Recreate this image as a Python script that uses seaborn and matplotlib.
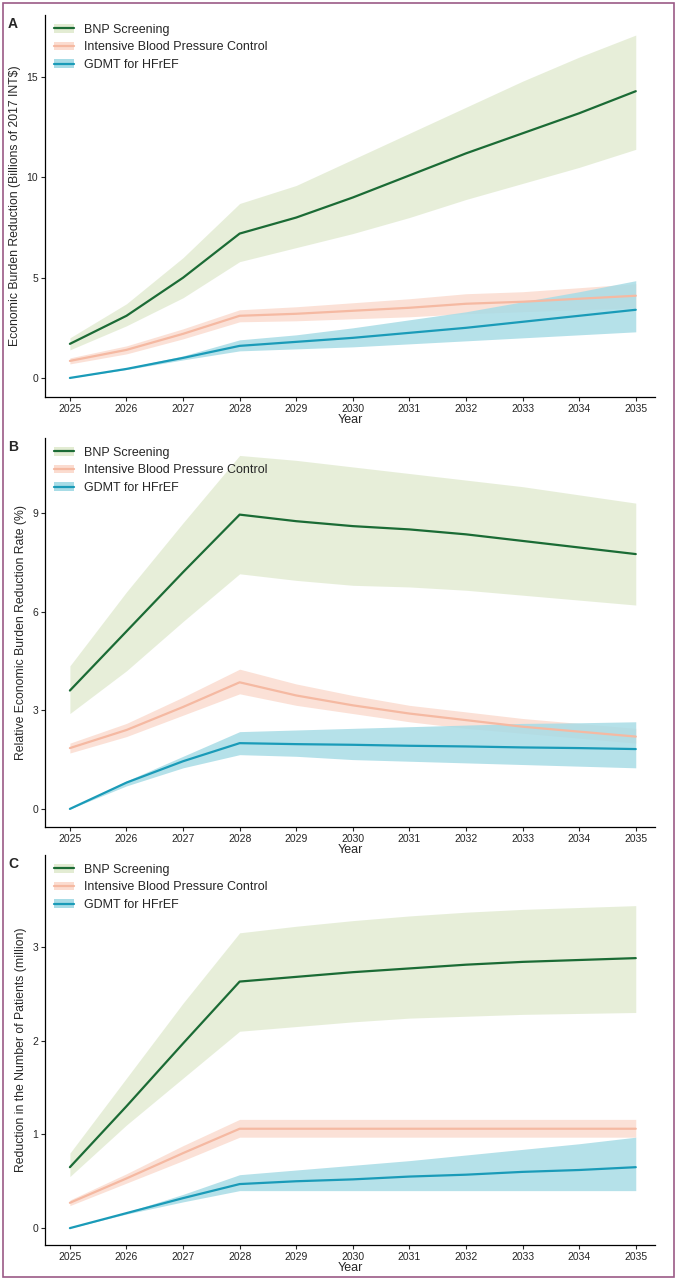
import matplotlib
matplotlib.use("Agg")
import matplotlib.pyplot as plt
import seaborn as sns
import pandas as pd
from matplotlib.patches import Rectangle, Patch
from matplotlib.lines import Line2D

years = list(range(2025, 2036))
series_names = ["BNP Screening", "Intensive Blood Pressure Control", "GDMT for HFrEF"]

# Panel A
a_bnp = [1.7, 3.1, 5.0, 7.2, 8.0, 9.0, 10.1, 11.2, 12.2, 13.2, 14.3]
a_bnp_lo = [1.4, 2.6, 4.0, 5.8, 6.5, 7.2, 8.0, 8.9, 9.7, 10.5, 11.4]
a_bnp_hi = [2.0, 3.7, 6.0, 8.7, 9.6, 10.9, 12.2, 13.5, 14.8, 16.0, 17.1]
a_ibp = [0.85, 1.4, 2.2, 3.1, 3.2, 3.35, 3.5, 3.7, 3.8, 3.95, 4.1]
a_ibp_lo = [0.7, 1.2, 1.95, 2.8, 2.85, 2.95, 3.05, 3.2, 3.3, 3.4, 3.5]
a_ibp_hi = [1.0, 1.6, 2.45, 3.4, 3.55, 3.75, 3.95, 4.2, 4.3, 4.5, 4.7]
a_gd = [0.0, 0.45, 1.0, 1.6, 1.8, 2.0, 2.25, 2.5, 2.8, 3.1, 3.4]
a_gd_lo = [0.0, 0.42, 0.9, 1.35, 1.45, 1.55, 1.7, 1.85, 2.0, 2.15, 2.3]
a_gd_hi = [0.0, 0.5, 1.1, 1.9, 2.15, 2.5, 2.9, 3.3, 3.8, 4.3, 4.85]

# Panel B
b_bnp = [3.6, 5.4, 7.2, 8.95, 8.75, 8.6, 8.5, 8.35, 8.15, 7.95, 7.75]
b_bnp_lo = [2.9, 4.2, 5.7, 7.15, 6.95, 6.8, 6.75, 6.65, 6.5, 6.35, 6.2]
b_bnp_hi = [4.35, 6.6, 8.7, 10.75, 10.6, 10.4, 10.2, 10.0, 9.8, 9.55, 9.3]
b_ibp = [1.85, 2.4, 3.1, 3.85, 3.45, 3.15, 2.9, 2.7, 2.5, 2.35, 2.2]
b_ibp_lo = [1.7, 2.2, 2.85, 3.5, 3.15, 2.9, 2.65, 2.45, 2.3, 2.15, 2.0]
b_ibp_hi = [2.0, 2.6, 3.4, 4.25, 3.8, 3.45, 3.15, 2.95, 2.75, 2.6, 2.45]
b_gd = [0.0, 0.8, 1.45, 2.0, 1.97, 1.95, 1.92, 1.9, 1.87, 1.85, 1.82]
b_gd_lo = [0.0, 0.7, 1.25, 1.65, 1.6, 1.5, 1.45, 1.4, 1.35, 1.3, 1.25]
b_gd_hi = [0.0, 0.85, 1.6, 2.35, 2.4, 2.45, 2.5, 2.55, 2.6, 2.62, 2.65]

# Panel C
c_bnp = [0.65, 1.3, 1.97, 2.63, 2.68, 2.73, 2.77, 2.81, 2.84, 2.86, 2.88]
c_bnp_lo = [0.55, 1.1, 1.6, 2.1, 2.15, 2.2, 2.24, 2.26, 2.28, 2.29, 2.3]
c_bnp_hi = [0.8, 1.6, 2.4, 3.15, 3.22, 3.28, 3.33, 3.37, 3.4, 3.42, 3.44]
c_ibp = [0.27, 0.53, 0.8, 1.06, 1.06, 1.06, 1.06, 1.06, 1.06, 1.06, 1.06]
c_ibp_lo = [0.24, 0.48, 0.72, 0.97, 0.97, 0.97, 0.97, 0.97, 0.97, 0.97, 0.97]
c_ibp_hi = [0.3, 0.58, 0.88, 1.16, 1.16, 1.16, 1.16, 1.16, 1.16, 1.16, 1.16]
c_gd = [0.0, 0.16, 0.32, 0.47, 0.5, 0.52, 0.55, 0.57, 0.6, 0.62, 0.65]
c_gd_lo = [0.0, 0.15, 0.28, 0.4, 0.4, 0.4, 0.4, 0.4, 0.4, 0.4, 0.4]
c_gd_hi = [0.0, 0.17, 0.36, 0.57, 0.62, 0.67, 0.72, 0.78, 0.84, 0.9, 0.97]

line_colors = ["#1b6b35", "#f5b9a2", "#1a9bb8"]
band_colors = ["#e3ecd3", "#fbdcd0", "#a8dce6"]

sns.set_theme(style="white")
plt.rcParams['font.family'] = ['Liberation Sans', 'DejaVu Sans']

W, H = 677, 1280
fig = plt.figure(figsize=(W / 100, H / 100), dpi=100)
fig.patches.append(Rectangle((3 / W, 3 / H), 1 - 6 / W, 1 - 6 / H, transform=fig.transFigure,
                             fill=False, edgecolor="#9b5a86", linewidth=1.2))

panels = [
    ("A", (a_bnp, a_bnp_lo, a_bnp_hi), (a_ibp, a_ibp_lo, a_ibp_hi), (a_gd, a_gd_lo, a_gd_hi),
     "Economic Burden Reduction (Billions of 2017 INT$)", [0, 5, 10, 15], (-0.95, 18.1), 15, 397),
    ("B", (b_bnp, b_bnp_lo, b_bnp_hi), (b_ibp, b_ibp_lo, b_ibp_hi), (b_gd, b_gd_lo, b_gd_hi),
     "Relative Economic Burden Reduction Rate (%)", [0, 3, 6, 9], (-0.55, 11.28), 438, 827),
    ("C", (c_bnp, c_bnp_lo, c_bnp_hi), (c_ibp, c_ibp_lo, c_ibp_hi), (c_gd, c_gd_lo, c_gd_hi),
     "Reduction in the Number of Patients (million)", [0, 1, 2, 3], (-0.18, 3.98), 855, 1245),
]

for label, s1, s2, s3, ylab, yticks, ylim, top, bot in panels:
    ax = fig.add_axes([45 / W, 1 - bot / H, 610 / W, (bot - top) / H])
    for (mid, lo, hi), name, lc, bc in zip([s1, s2, s3], series_names, line_colors, band_colors):
        ax.fill_between(years, lo, hi, color=bc, alpha=0.85, linewidth=0)
        df = pd.DataFrame({"Year": years, "v": mid})
        sns.lineplot(data=df, x="Year", y="v", ax=ax, color=lc, linewidth=1.6)
    handles = [(Patch(facecolor=bc, edgecolor="none"), Line2D([], [], color=lc, lw=1.6))
               for lc, bc in zip(line_colors, band_colors)]
    ax.legend(handles, series_names, loc="upper left", bbox_to_anchor=(0.0, 1.0), frameon=False,
              fontsize=9, handlelength=1.6, labelspacing=0.45, borderaxespad=0.3)
    ax.set_xlim(2024.56, 2035.34)
    ax.set_ylim(*ylim)
    ax.set_xticks(years)
    ax.set_xticklabels([str(y) for y in years], fontsize=7.5)
    ax.set_yticks(yticks)
    ax.set_yticklabels([str(t) for t in yticks], fontsize=7.5)
    ax.set_xlabel("Year", fontsize=9, labelpad=0)
    ax.set_ylabel(ylab, fontsize=8.8)
    ax.tick_params(axis="both", length=3, width=0.8, bottom=True, left=True, pad=2)
    for s in ["top", "right"]:
        ax.spines[s].set_visible(False)
    for s in ["left", "bottom"]:
        ax.spines[s].set_color("black")
        ax.spines[s].set_linewidth(0.9)
    fig.text(8 / W, 1 - (top + 2) / H, label, fontsize=10, fontweight="bold", va="top")

fig.savefig("out.png", dpi=100)
